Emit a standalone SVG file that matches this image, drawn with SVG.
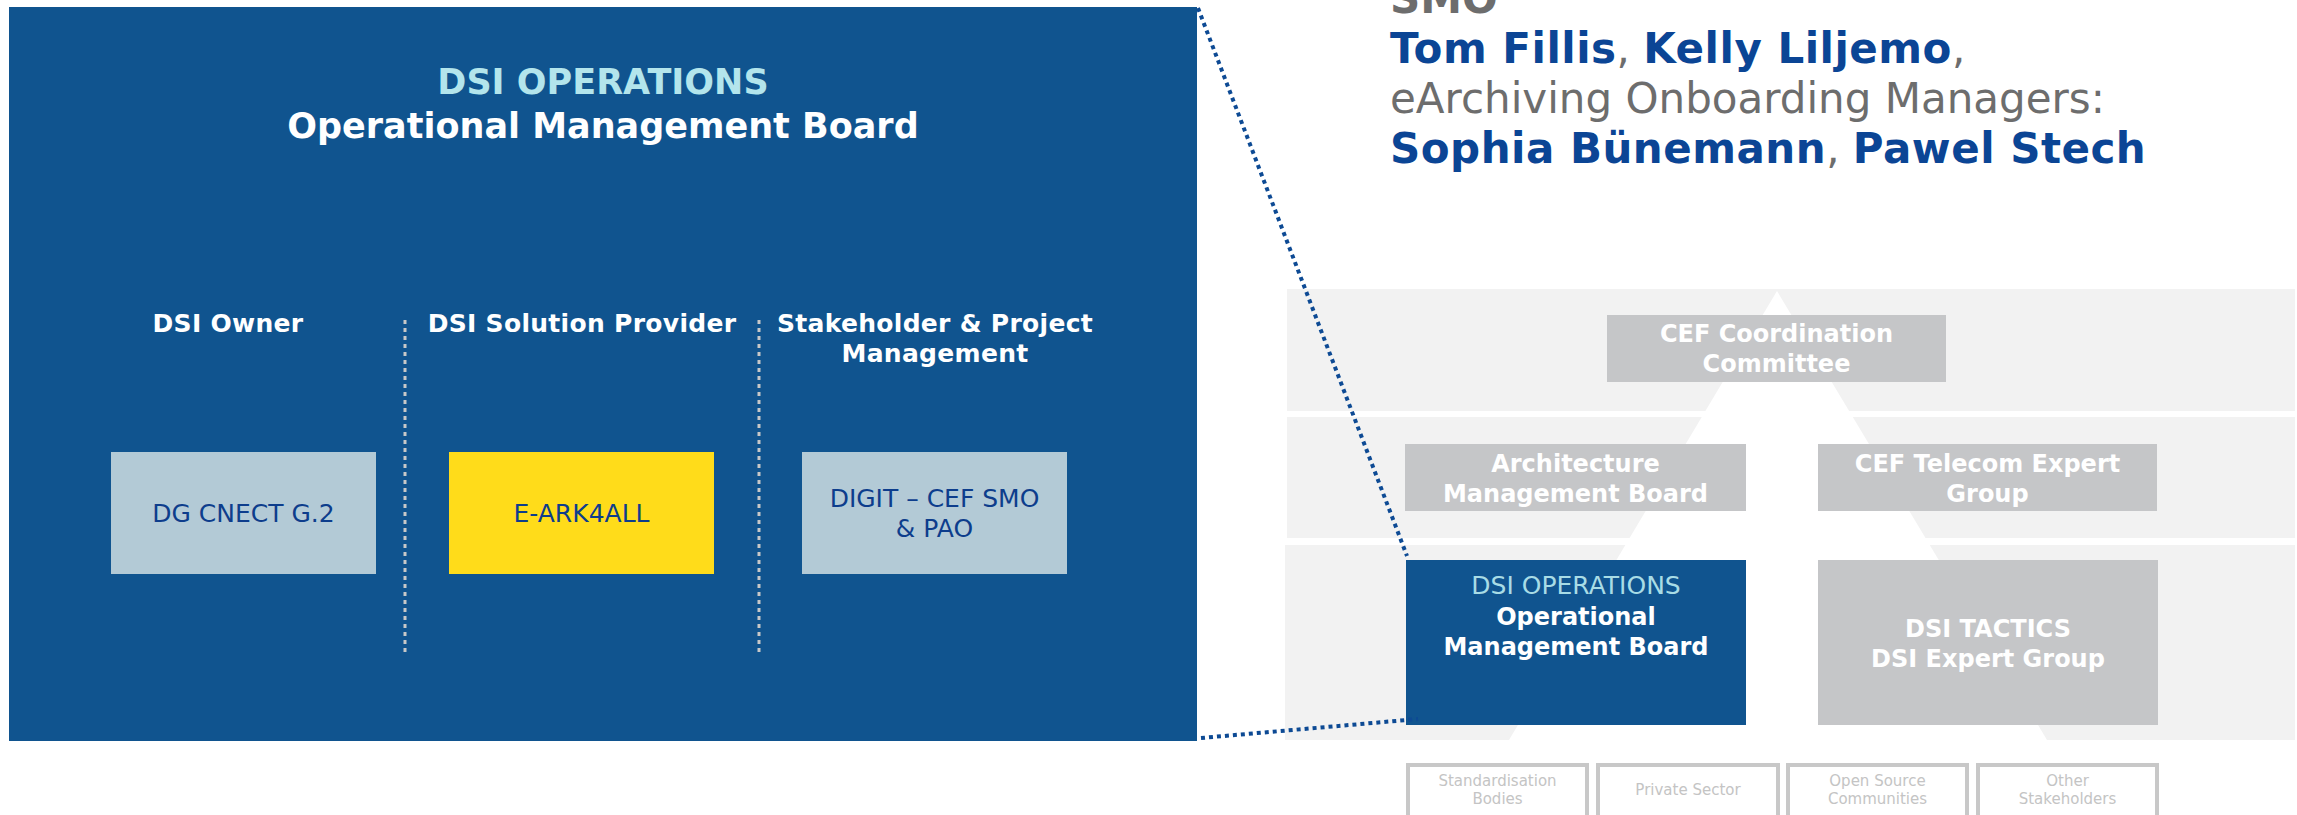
<svg xmlns="http://www.w3.org/2000/svg" width="2297" height="815" viewBox="0 0 2297 815">
<style>
text{font-family:"DejaVu Sans","Liberation Sans",sans-serif}
.b{font-weight:bold}
.hdr{font-size:25px;font-weight:bold;fill:#ffffff;text-anchor:middle;letter-spacing:0.3px}
.lbl{font-size:25px;fill:#0d3d8c;text-anchor:middle}
.gbox{fill:#c5c6c8}
.gt{font-size:24px;font-weight:bold;fill:#ffffff;text-anchor:middle}
.band{fill:#f2f2f2}
.ob{fill:#ffffff;stroke:#c8c8c8;stroke-width:4}
.ot{font-size:15px;fill:#c4c4c4;text-anchor:middle}
.sep{stroke:#c8c8c8;stroke-width:3;stroke-dasharray:4 4;fill:none}
.zoom{stroke:#0d4a94;stroke-width:4;stroke-dasharray:4 4;fill:none}
.nm{fill:#0b4595;font-weight:bold;letter-spacing:0.5px}
.gr{fill:#6d6d6d}
</style>
<rect width="2297" height="815" fill="#ffffff"/>

<g id="detail-panel">
<rect x="9" y="7" width="1188" height="734" fill="#10548f"/>
<text x="603" y="94" font-size="35" class="b" fill="#b3e5ec" text-anchor="middle">DSI OPERATIONS</text>
<text x="603" y="138" font-size="35" class="b" fill="#ffffff" text-anchor="middle">Operational Management Board</text>
<text x="228" y="332" class="hdr">DSI Owner</text>
<text x="582" y="332" class="hdr">DSI Solution Provider</text>
<text x="935" y="332" class="hdr">Stakeholder &amp; Project</text>
<text x="935" y="362" class="hdr">Management</text>
<line class="sep" x1="405" y1="320" x2="405" y2="652"/>
<line class="sep" x1="759" y1="320" x2="759" y2="652"/>
</g>

<g id="dg-cnect">
<rect x="111" y="452" width="265" height="122" fill="#b3cad6"/>
<text x="243.5" y="522" class="lbl">DG CNECT G.2</text>
</g>
<g id="e-ark4all">
<rect x="449" y="452" width="265" height="122" fill="#ffdc1a"/>
<text x="581.5" y="522" class="lbl">E-ARK4ALL</text>
</g>
<g id="digit">
<rect x="802" y="452" width="265" height="122" fill="#b3cad6"/>
<text x="934.5" y="507" class="lbl">DIGIT – CEF SMO</text>
<text x="934.5" y="537" class="lbl">&amp; PAO</text>
</g>

<g id="contacts" font-size="42">
<text x="1390" y="13" class="b" fill="#6d6d6d">SMO</text>
<text x="1390" y="63"><tspan class="nm">Tom Fillis</tspan><tspan class="gr">, </tspan><tspan class="nm">Kelly Liljemo</tspan><tspan class="gr">,</tspan></text>
<text x="1390" y="113" class="gr">eArchiving Onboarding Managers:</text>
<text x="1390" y="163"><tspan class="nm">Sophia Bünemann</tspan><tspan class="gr">, </tspan><tspan class="nm">Pawel Stech</tspan></text>
</g>

<g id="pyramid">
<rect class="band" x="1287" y="289" width="1008" height="122"/>
<rect class="band" x="1287" y="417" width="1008" height="121"/>
<rect class="band" x="1285" y="545" width="1010" height="195"/>
<polygon points="1777,291 2047,740 1509,740" fill="#ffffff"/>
</g>

<g id="cef-coordination">
<rect class="gbox" x="1607" y="315" width="339" height="67"/>
<text x="1776.5" y="342" class="gt">CEF Coordination</text>
<text x="1776.5" y="372" class="gt">Committee</text>
</g>
<g id="architecture-board">
<rect class="gbox" x="1405" y="444" width="341" height="67"/>
<text x="1575.5" y="472" class="gt">Architecture</text>
<text x="1575.5" y="502" class="gt">Management Board</text>
</g>
<g id="cef-telecom">
<rect class="gbox" x="1818" y="444" width="339" height="67"/>
<text x="1987.5" y="472" class="gt">CEF Telecom Expert</text>
<text x="1987.5" y="502" class="gt">Group</text>
</g>
<g id="dsi-operations">
<rect x="1406" y="560" width="340" height="165" fill="#10548f"/>
<text x="1576" y="594" font-size="25" fill="#a8dce6" text-anchor="middle">DSI OPERATIONS</text>
<text x="1576" y="625" class="gt">Operational</text>
<text x="1576" y="655" class="gt">Management Board</text>
</g>
<g id="dsi-tactics">
<rect class="gbox" x="1818" y="560" width="340" height="165"/>
<text x="1988" y="637" class="gt" font-size="25">DSI TACTICS</text>
<text x="1988" y="667" class="gt" font-size="25">DSI Expert Group</text>
</g>

<g id="standardisation">
<rect class="ob" x="1408" y="765" width="179" height="60"/>
<text x="1497.5" y="786" class="ot">Standardisation</text>
<text x="1497.5" y="804" class="ot">Bodies</text>
</g>
<g id="private-sector">
<rect class="ob" x="1598" y="765" width="180" height="60"/>
<text x="1688" y="795" class="ot">Private Sector</text>
</g>
<g id="open-source">
<rect class="ob" x="1788" y="765" width="179" height="60"/>
<text x="1877.5" y="786" class="ot">Open Source</text>
<text x="1877.5" y="804" class="ot">Communities</text>
</g>
<g id="other-stakeholders">
<rect class="ob" x="1978" y="765" width="179" height="60"/>
<text x="2067.5" y="786" class="ot">Other</text>
<text x="2067.5" y="804" class="ot">Stakeholders</text>
</g>

<g id="connectors">
<line class="zoom" x1="1198" y1="8" x2="1407" y2="556"/>
<line class="zoom" x1="1201" y1="738" x2="1418" y2="719"/>
</g>
</svg>
